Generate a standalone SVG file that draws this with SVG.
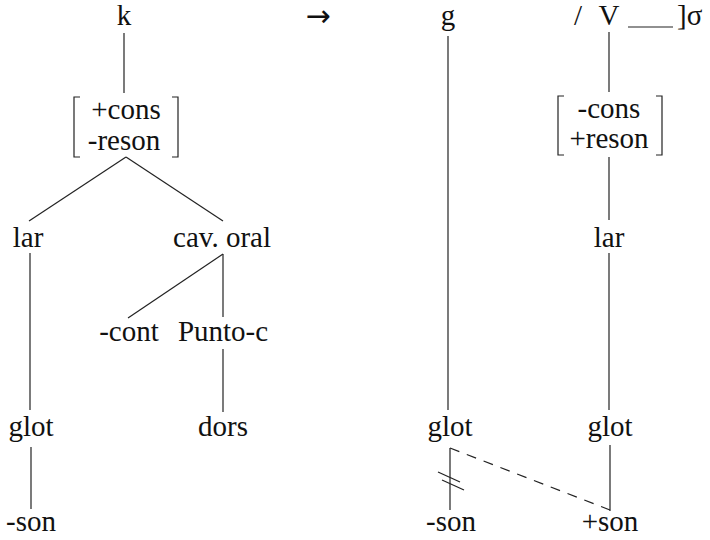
<svg xmlns="http://www.w3.org/2000/svg" width="710" height="540" viewBox="0 0 710 540">
<style>
.l{stroke:#222;stroke-width:1.2;fill:none}
.d{stroke:#222;stroke-width:1.2;fill:none;stroke-dasharray:10 8}
</style>
<rect width="710" height="540" fill="#fff"/>
<g id="connectors">
<line class="l" x1="124" y1="33" x2="124" y2="93"/>
<line class="l" x1="126" y1="157" x2="29" y2="221"/>
<line class="l" x1="126" y1="157" x2="223" y2="221"/>
<line class="l" x1="30" y1="253" x2="30" y2="410"/>
<line class="l" x1="223" y1="254" x2="128" y2="318"/>
<line class="l" x1="223" y1="254" x2="223" y2="317"/>
<line class="l" x1="223" y1="349" x2="223" y2="412"/>
<line class="l" x1="31" y1="447" x2="31" y2="509"/>
<line class="l" x1="448" y1="36" x2="448" y2="410"/>
<line class="l" x1="609" y1="32" x2="609" y2="92"/>
<line class="l" x1="609" y1="157" x2="609" y2="220"/>
<line class="l" x1="609" y1="253" x2="609" y2="410"/>
<line class="l" x1="450" y1="448" x2="450" y2="510"/>
<line class="l" x1="610" y1="445" x2="610" y2="511"/>
<line class="d" x1="450" y1="448" x2="610" y2="510"/>
<line class="l" x1="438" y1="472" x2="460" y2="482"/>
<line class="l" x1="442" y1="480" x2="464" y2="490"/>
<line class="l" x1="628" y1="27" x2="673" y2="27"/>
</g>
<g id="bracket-left">
<path class="l" d="M80,97 H74 V157 H80 M172,97 H178 V157 H172"/>
<text x="126" y="119" font-family="Liberation Serif" font-size="29" text-anchor="middle" fill="#111">+cons</text>
<text x="124" y="150" font-family="Liberation Serif" font-size="29" text-anchor="middle" fill="#111">-reson</text>
</g>
<g id="bracket-right">
<path class="l" d="M564,96 H558 V155 H564 M656,96 H662 V155 H656"/>
<text x="609" y="118" font-family="Liberation Serif" font-size="29" text-anchor="middle" fill="#111">-cons</text>
<text x="609" y="148" font-family="Liberation Serif" font-size="29" text-anchor="middle" fill="#111">+reson</text>
</g>
<g id="k"><text x="124" y="25" font-family="Liberation Serif" font-size="29" text-anchor="middle" fill="#111">k</text></g>
<g id="arrow"><text x="318" y="26" font-family="DejaVu Sans" font-size="30" text-anchor="middle" fill="#111">→</text></g>
<g id="g"><text x="448" y="25" font-family="Liberation Serif" font-size="29" text-anchor="middle" fill="#111">g</text></g>
<g id="env">
<text x="578" y="25" font-family="Liberation Serif" font-size="29" text-anchor="middle" fill="#111">/</text>
<text x="609" y="25" font-family="Liberation Serif" font-size="29" text-anchor="middle" fill="#111">V</text>
<text x="677" y="25" font-family="Liberation Serif" font-size="29" fill="#111">]σ</text>
</g>
<g id="lar-l"><text x="28" y="247" font-family="Liberation Serif" font-size="29" text-anchor="middle" fill="#111">lar</text></g>
<g id="cav-oral"><text x="222" y="247" font-family="Liberation Serif" font-size="29" text-anchor="middle" fill="#111">cav. oral</text></g>
<g id="lar-r"><text x="609" y="247" font-family="Liberation Serif" font-size="29" text-anchor="middle" fill="#111">lar</text></g>
<g id="cont"><text x="129" y="341" font-family="Liberation Serif" font-size="29" text-anchor="middle" fill="#111">-cont</text></g>
<g id="punto-c"><text x="223" y="341" font-family="Liberation Serif" font-size="29" text-anchor="middle" fill="#111">Punto-c</text></g>
<g id="glot-l"><text x="31" y="436" font-family="Liberation Serif" font-size="29" text-anchor="middle" fill="#111">glot</text></g>
<g id="dors"><text x="223" y="436" font-family="Liberation Serif" font-size="29" text-anchor="middle" fill="#111">dors</text></g>
<g id="glot-m"><text x="450" y="436" font-family="Liberation Serif" font-size="29" text-anchor="middle" fill="#111">glot</text></g>
<g id="glot-r"><text x="610" y="436" font-family="Liberation Serif" font-size="29" text-anchor="middle" fill="#111">glot</text></g>
<g id="son-l"><text x="31" y="531" font-family="Liberation Serif" font-size="29" text-anchor="middle" fill="#111">-son</text></g>
<g id="son-m"><text x="451" y="531" font-family="Liberation Serif" font-size="29" text-anchor="middle" fill="#111">-son</text></g>
<g id="son-r"><text x="610" y="531" font-family="Liberation Serif" font-size="29" text-anchor="middle" fill="#111">+son</text></g>
</svg>
